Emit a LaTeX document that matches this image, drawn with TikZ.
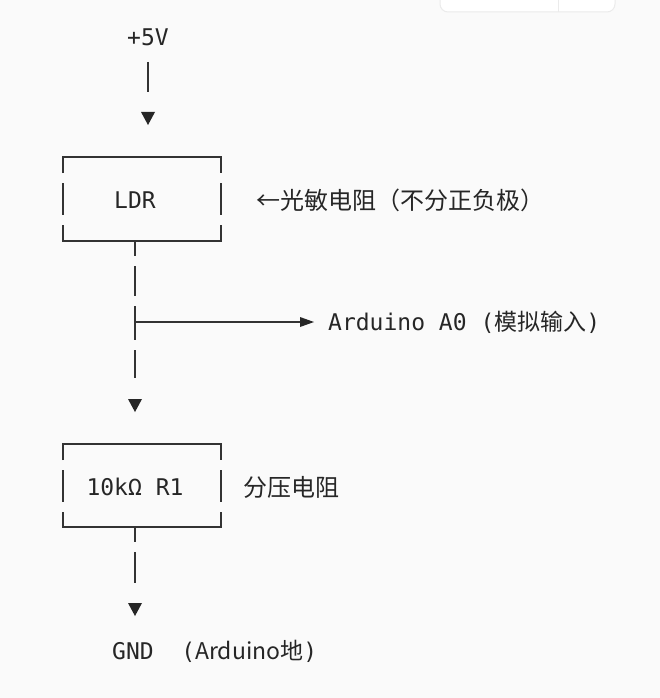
\documentclass[tikz,border=0pt]{standalone}
\usepackage{fontspec}
\setmonofont{DejaVu Sans Mono}
\newfontfamily\cjk{Noto Sans CJK SC}
\begin{document}
\begin{tikzpicture}[x=1pt,y=-1pt,
  txt/.style={font=\fontsize{23}{26}\selectfont\ttfamily,text=black!85,inner sep=0pt},
  ln/.style={line width=1.6pt,draw=black!80},
  tri/.style={fill=black!85,draw=none}]
\fill[black!2] (0,0) rectangle (660,698);
\useasboundingbox (0,0) rectangle (660,698);
\filldraw[fill=white,draw=black!8,line width=1pt,rounded corners=8] (440,-20) rectangle (615,12);
\draw[black!8,line width=1pt] (558,-5) -- (558,12);
% +5V
\node[txt] (v5) at (148,37) {+5V};
\draw[ln] (148,62) -- (148,92);
\fill[tri] (141,112) -- (155,112) -- (148,125) -- cycle;
% LDR box
\draw[ln] (63,173) -- (63,157) -- (221,157) -- (221,173);
\draw[ln] (63,183) -- (63,215); \draw[ln] (221,183) -- (221,215);
\draw[ln] (63,225) -- (63,241) -- (221,241) -- (221,225);
\node[txt] (ldr) at (135,200) {LDR};
\node[txt,anchor=west] (ldrl) at (256,200) {\cjk\fontsize{24}{26}\selectfont ←光敏电阻（不分正负极）};
% line down
\draw[ln] (135,241) -- (135,256);
\draw[ln] (135,266) -- (135,296);
\draw[ln] (135,306) -- (135,340);
\draw[ln] (135,350) -- (135,378);
\coordinate (tee) at (135,322);
\draw[ln] (tee) -- (304,322);
\fill[tri] (300,317) -- (314,322) -- (300,327) -- cycle;
\node[txt,anchor=west] (a0) at (328,322) {Arduino A0 ({\cjk 模拟输入})};
\fill[tri] (128,399) -- (142,399) -- (135,412) -- cycle;
% R1 box
\draw[ln] (63,460) -- (63,444) -- (221,444) -- (221,460);
\draw[ln] (63,470) -- (63,502); \draw[ln] (221,470) -- (221,502);
\draw[ln] (63,512) -- (63,527) -- (221,527) -- (221,512);
\node[txt] (r1) at (135,487) {10k\symbol{"03A9} R1};
\node[txt,anchor=west] (r1l) at (243,487) {\cjk\fontsize{24}{26}\selectfont 分压电阻};
\draw[ln] (135,527) -- (135,542);
\draw[ln] (135,552) -- (135,583);
\fill[tri] (128,603) -- (142,603) -- (135,616) -- cycle;
\node[txt,anchor=west] (gnd) at (112,651) {GND\ \ ({\cjk Arduino地})};
\end{tikzpicture}
\end{document}
